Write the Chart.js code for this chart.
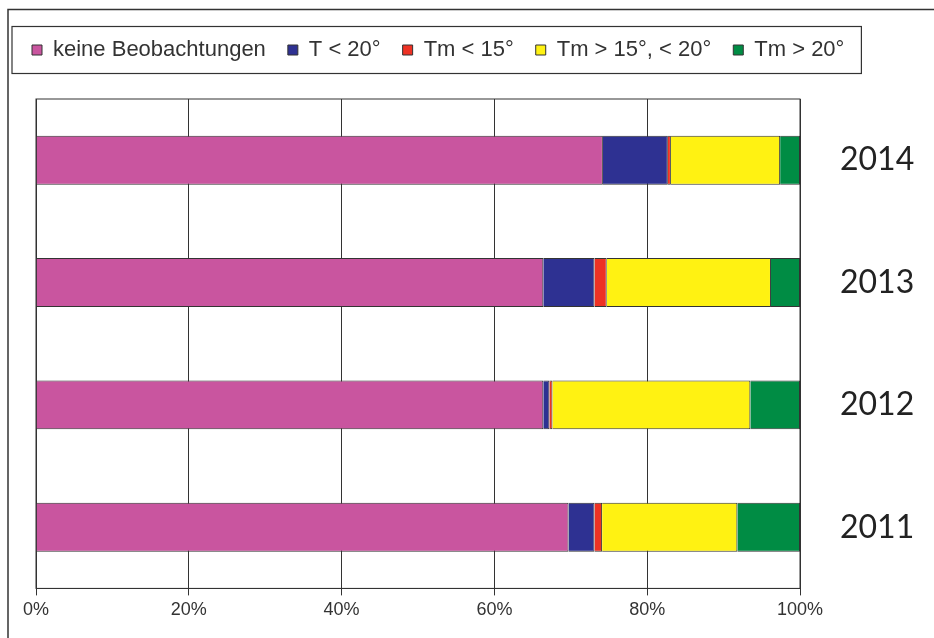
<!DOCTYPE html>
<html>
<head>
<meta charset="utf-8">
<script src="https://cdn.jsdelivr.net/npm/chart.js@4"></script>
<style>
  html, body { margin: 0; padding: 0; background: #fff; }
  #wrap { width: 934px; height: 638px; }
</style>
</head>
<body>
<div id="wrap"><canvas id="barChart" width="934" height="638"></canvas></div>
<script>
const years = ['2014', '2013', '2012', '2011'];
const xTicks = [0, 20, 40, 60, 80, 100];

// share of each class per year, in percent
const keineBeobachtungen = [74.2, 66.4, 66.4, 69.7];
const tUnter20 = [8.5, 6.7, 0.8, 3.4];
const tmUnter15 = [0.4, 1.6, 0.4, 1.0];
const tm15bis20 = [14.3, 21.5, 25.9, 17.7];
const tmUeber20 = [2.6, 3.8, 6.5, 8.2];

const ctx = document.getElementById('barChart').getContext('2d');

function mkSet(label, data, color) {
  return {
    label: label,
    data: data,
    backgroundColor: color,
    borderColor: '#333333',
    borderWidth: 1,
    barPercentage: 0.8,
    categoryPercentage: 0.5
  };
}

// frame round the whole picture, box round legend and plot
const framePlugin = {
  id: 'frames',
  beforeInit(chart) {
    const fit = chart.legend.fit;
    chart.legend.fit = function () {
      fit.bind(chart.legend)();
      this.height += 28;
    };
  },
  afterLayout(chart) {
    // legend sits further left than the plot
    chart.legend.left = 10;
  },
  afterDraw(chart) {
    const c = chart.ctx;
    const area = chart.chartArea;
    c.save();
    c.strokeStyle = '#333333';
    c.lineWidth = 1.5;
    c.beginPath();
    c.moveTo(8, 638);
    c.lineTo(8, 9.5);
    c.lineTo(934, 9.5);
    c.stroke();

    const hb = chart.legend.legendHitBoxes;
    if (hb && hb.length) {
      const first = hb[0];
      const last = hb[hb.length - 1];
      const x0 = first.left - 20;
      const x1 = last.left + last.width + 17;
      const y0 = first.top - 12.5;
      const y1 = first.top + first.height + 12.5;
      c.lineWidth = 1.2;
      c.strokeRect(x0, y0, x1 - x0, y1 - y0);
    }

    c.lineWidth = 1;
    c.strokeRect(area.left, area.top, area.right - area.left, area.bottom - area.top);
    c.restore();
  }
};

new Chart(ctx, {
  type: 'bar',
  data: {
    labels: years,
    datasets: [
      mkSet('keine Beobachtungen', keineBeobachtungen, '#C9559F'),
      mkSet('T < 20°', tUnter20, '#2E3192'),
      mkSet('Tm < 15°', tmUnter15, '#EE3224'),
      mkSet('Tm > 15°, < 20°', tm15bis20, '#FFF212'),
      mkSet('Tm > 20°', tmUeber20, '#008C44')
    ]
  },
  options: {
    indexAxis: 'y',
    responsive: false,
    animation: false,
    layout: {
      padding: { top: 17, left: 36, right: 20, bottom: 13 }
    },
    plugins: {
      legend: {
        position: 'top',
        align: 'start',
        labels: {
          boxWidth: 10,
          boxHeight: 10,
          padding: 22,
          color: '#333333',
          font: { family: '"Liberation Sans", Arial, sans-serif', size: 22 }
        }
      },
      tooltip: { enabled: false }
    },
    scales: {
      x: {
        stacked: true,
        min: 0,
        max: 100,
        afterBuildTicks(axis) {
          axis.ticks = xTicks.map(v => ({ value: v }));
        },
        grid: {
          color: '#333333',
          lineWidth: 1,
          tickLength: 7
        },
        border: { color: '#333333', width: 1 },
        ticks: {
          padding: 4,
          color: '#333333',
          font: { family: '"Liberation Sans", Arial, sans-serif', size: 18 },
          callback: v => v + '%'
        }
      },
      y: {
        stacked: true,
        position: 'right',
        afterFit(axis) {
          axis.width = 114;
          axis.paddingTop = 0;
          axis.paddingBottom = 0;
        },
        grid: { display: false, drawTicks: false },
        border: { display: false },
        ticks: {
          padding: 40,
          color: '#222222',
          font: { family: 'Lato, sans-serif', size: 32 }
        }
      }
    }
  },
  plugins: [framePlugin]
});
</script>
</body>
</html>
